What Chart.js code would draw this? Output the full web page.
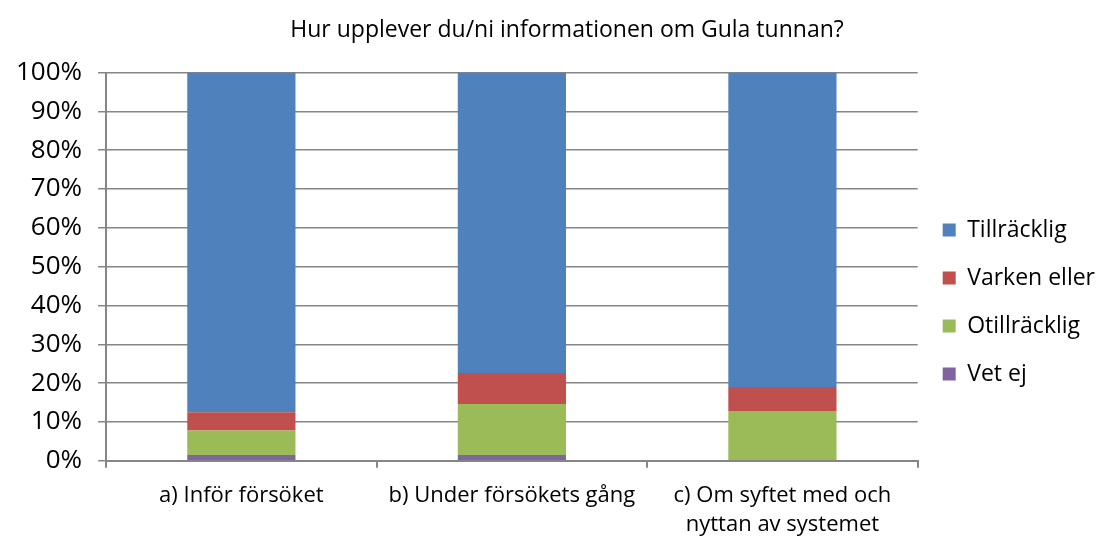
<!DOCTYPE html>
<html>
<head>
<meta charset="utf-8">
<script src="https://cdn.jsdelivr.net/npm/chart.js@4/dist/chart.umd.min.js"></script>
<style>
  html, body { margin: 0; padding: 0; background: #fff; }
  #wrap { width: 1105px; height: 538px; overflow: hidden; }
</style>
</head>
<body>
<div id="wrap"><canvas id="chart" width="1105" height="538"></canvas></div>
<script>
// values, in percent of answers
const categories = [
  ['a) Inför försöket'],
  ['b) Under försökets gång'],
  ['c) Om syftet med och', 'nyttan av systemet']
];
const vetEj = [1.5, 1.5, 0];
const otillracklig = [6.3, 13.1, 12.8];
const varkenEller = [4.7, 8.0, 6.2];
const tillracklig = [87.5, 77.4, 81.0];

const titleText = 'Hur upplever du/ni informationen om Gula tunnan?';
const font = "'Open Sans', sans-serif";
const gridGray = '#868686';

// title centred a bit right of the canvas middle, as in the original
const titlePlugin = {
  id: 'topTitle',
  afterDraw(chart) {
    const ctx = chart.ctx;
    ctx.save();
    ctx.font = '23px ' + font;
    ctx.fillStyle = '#000';
    ctx.textAlign = 'center';
    ctx.textBaseline = 'middle';
    ctx.fillText(titleText, 567, 30);
    ctx.restore();
  }
};

const ctx = document.getElementById('chart').getContext('2d');
new Chart(ctx, {
  type: 'bar',
  data: {
    labels: categories,
    datasets: [
      { label: 'Vet ej', data: vetEj, backgroundColor: '#8064A2' },
      { label: 'Otillräcklig', data: otillracklig, backgroundColor: '#9BBB59' },
      { label: 'Varken eller', data: varkenEller, backgroundColor: '#C0504D' },
      { label: 'Tillräcklig', data: tillracklig, backgroundColor: '#4F81BD' }
    ]
  },
  options: {
    responsive: false,
    animation: false,
    categoryPercentage: 0.4,
    barPercentage: 1,
    layout: { padding: { top: 51, left: 0, right: 0, bottom: -15 } },
    plugins: {
      // invisible spacer over the plot only, so the legend can sit higher
      title: {
        display: true,
        text: ' ',
        fullSize: false,
        color: 'rgba(0,0,0,0)',
        font: { size: 18 },
        padding: 0
      },
      legend: {
        position: 'right',
        reverse: true,
        labels: {
          font: { size: 23, family: font },
          color: '#000',
          boxWidth: 13,
          boxHeight: 13,
          padding: 25
        }
      },
      tooltip: { enabled: false }
    },
    scales: {
      x: {
        stacked: true,
        grid: { offset: true, drawOnChartArea: false, color: gridGray, tickLength: 7, lineWidth: 2 },
        border: { color: gridGray, width: 2 },
        ticks: { font: { size: 22, family: font, lineHeight: 1.3 }, color: '#000', maxRotation: 0, padding: 14 }
      },
      y: {
        stacked: true,
        min: 0,
        max: 100,
        grid: { color: gridGray, lineWidth: 1.5, tickLength: 8 },
        border: { color: gridGray, width: 2 },
        ticks: {
          stepSize: 10,
          font: { size: 26, family: font },
          color: '#000',
          padding: 16,
          callback: v => v + '%'
        }
      }
    }
  },
  plugins: [titlePlugin]
});
</script>
</body>
</html>
